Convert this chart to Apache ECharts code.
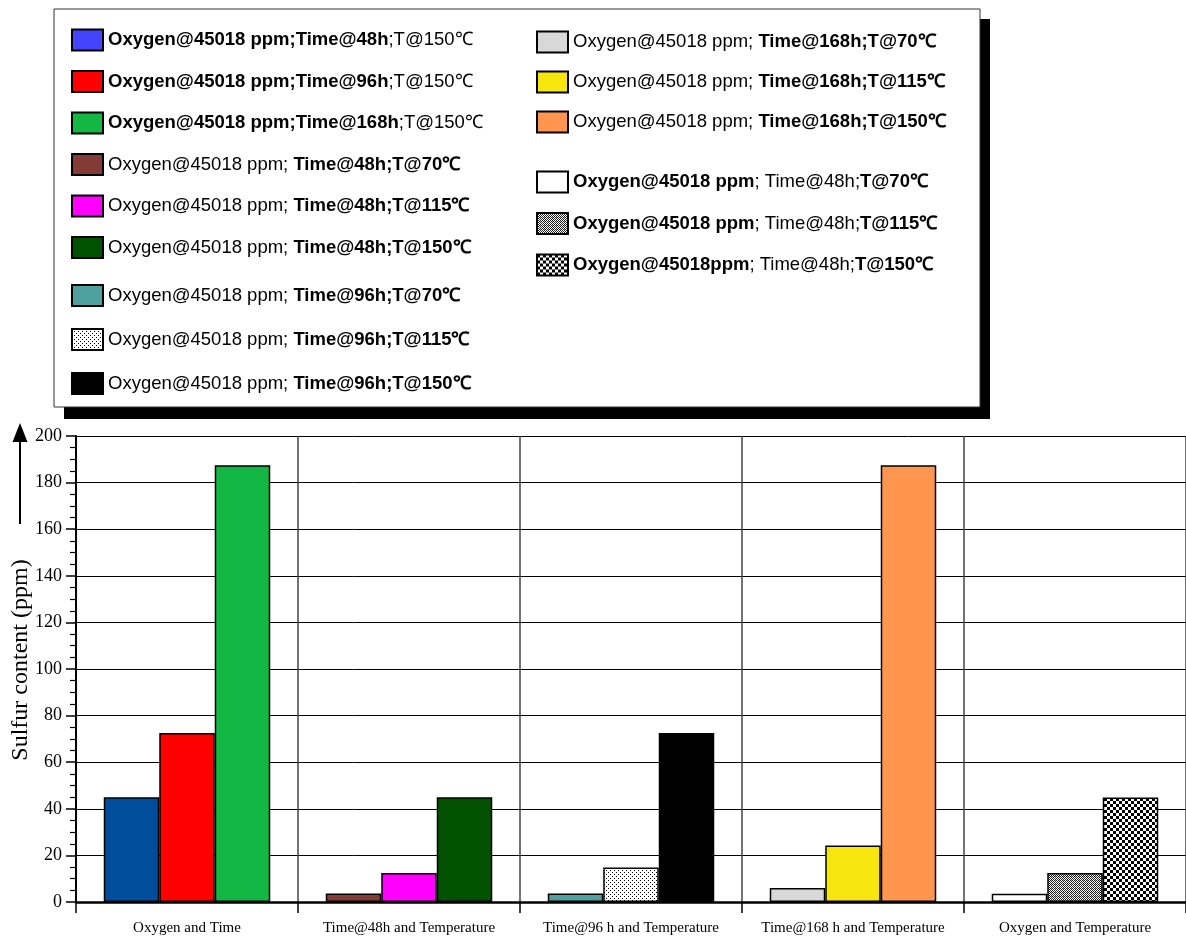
<!DOCTYPE html>
<html>
<head>
<meta charset="utf-8">
<script src="https://cdn.jsdelivr.net/npm/echarts@6/dist/echarts.min.js"></script>
<style>html,body{margin:0;padding:0;background:#fff;}#chart{width:1186px;height:938px;}</style>
</head>
<body>
<div id="chart"></div>
<script>
// ---------- DATA ----------
const categories = ['Oxygen and Time', 'Time@48h and Temperature', 'Time@96 h and Temperature', 'Time@168 h and Temperature', 'Oxygen and Temperature'];
const oxygenTime = [45, 72.5, 187.5];
const time48Temp = [3.7, 12.5, 45];
const time96Temp = [3.7, 14.8, 72.5];
const time168Temp = [6, 24.2, 187.5];
const oxygenTemp = [3.5, 12.5, 44.8];
const groupValues = [oxygenTime, time48Temp, time96Temp, time168Temp, oxygenTemp];
const seriesNames = [
  'Oxygen@45018 ppm;Time@48h;T@150℃',
  'Oxygen@45018 ppm;Time@96h;T@150℃',
  'Oxygen@45018 ppm;Time@168h;T@150℃',
  'Oxygen@45018 ppm; Time@48h;T@70℃',
  'Oxygen@45018 ppm; Time@48h;T@115℃',
  'Oxygen@45018 ppm; Time@48h;T@150℃',
  'Oxygen@45018 ppm; Time@96h;T@70℃',
  'Oxygen@45018 ppm; Time@96h;T@115℃',
  'Oxygen@45018 ppm; Time@96h;T@150℃',
  'Oxygen@45018 ppm; Time@168h;T@70℃',
  'Oxygen@45018 ppm; Time@168h;T@115℃',
  'Oxygen@45018 ppm; Time@168h;T@150℃',
  'Oxygen@45018 ppm; Time@48h; T@70℃',
  'Oxygen@45018 ppm; Time@48h; T@115℃',
  'Oxygen@45018ppm; Time@48h; T@150℃'
];
// rich-text pieces of legend labels: [bold?, text]
const legendParts = [
  [[1, 'Oxygen@45018 ppm;Time@48h'], [0, ';T@150℃']],
  [[1, 'Oxygen@45018 ppm;Time@96h'], [0, ';T@150℃']],
  [[1, 'Oxygen@45018 ppm;Time@168h'], [0, ';T@150℃']],
  [[0, 'Oxygen@45018 ppm; '], [1, 'Time@48h;T@70℃']],
  [[0, 'Oxygen@45018 ppm; '], [1, 'Time@48h;T@115℃']],
  [[0, 'Oxygen@45018 ppm; '], [1, 'Time@48h;T@150℃']],
  [[0, 'Oxygen@45018 ppm; '], [1, 'Time@96h;T@70℃']],
  [[0, 'Oxygen@45018 ppm; '], [1, 'Time@96h;T@115℃']],
  [[0, 'Oxygen@45018 ppm; '], [1, 'Time@96h;T@150℃']],
  [[0, 'Oxygen@45018 ppm; '], [1, 'Time@168h;T@70℃']],
  [[0, 'Oxygen@45018 ppm; '], [1, 'Time@168h;T@115℃']],
  [[0, 'Oxygen@45018 ppm; '], [1, 'Time@168h;T@150℃']],
  [[1, 'Oxygen@45018 ppm'], [0, '; Time@48h;'], [1, 'T@70℃']],
  [[1, 'Oxygen@45018 ppm'], [0, '; Time@48h;'], [1, 'T@115℃']],
  [[1, 'Oxygen@45018ppm'], [0, '; Time@48h;'], [1, 'T@150℃']]
];

// ---------- STYLES ----------
function pattern(size, draw) {
  const c = document.createElement('canvas');
  c.width = size; c.height = size;
  const ctx = c.getContext('2d');
  ctx.fillStyle = '#fff'; ctx.fillRect(0, 0, size, size);
  ctx.fillStyle = '#000';
  draw(ctx);
  return { image: c, repeat: 'repeat' };
}
const dotted = pattern(4, ctx => { ctx.fillRect(0, 0, 1, 1); ctx.fillRect(2, 2, 1, 1); });
const crosshatch = pattern(4, ctx => {
  ctx.fillStyle = '#222';
  ctx.fillRect(0, 0, 1, 1); ctx.fillRect(2, 0, 1, 1); ctx.fillRect(1, 1, 1, 1); ctx.fillRect(3, 1, 1, 1);
  ctx.fillRect(0, 2, 1, 1); ctx.fillRect(2, 2, 1, 1); ctx.fillRect(1, 3, 1, 1); ctx.fillRect(3, 3, 1, 1);
  ctx.fillStyle = '#fff'; ctx.fillRect(1, 2, 1, 1);
  ctx.fillStyle = '#aaa'; ctx.fillRect(3, 0, 1, 1);
});
const checker = pattern(6, ctx => { ctx.fillRect(0, 0, 3, 3); ctx.fillRect(3, 3, 3, 3); });

const barColors = ['#004E9B', '#FF0000', '#12B843', '#833B35', '#FF00FF', '#005200', '#50A0A0', dotted, '#000000', '#D8D8D8', '#F7E60E', '#FF9650', '#FFFFFF', crosshatch, checker];
const legendColorOverride = { 0: '#4444FF' };

const serif = 'Liberation Serif, Times New Roman, serif';
const sans = 'Liberation Sans, Arial, sans-serif';
const LFS = 18.5;

const series = [];
groupValues.forEach((vals, g) => {
  vals.forEach((v, s) => {
    const idx = g * 3 + s;
    series.push({
      type: 'bar',
      name: seriesNames[idx],
      stack: 'slot' + s,
      barGap: '0%',
      barCategoryGap: '25%',
      itemStyle: { color: barColors[idx], borderColor: '#000', borderWidth: 1.5 },
      emphasis: { disabled: true },
      data: categories.map((c, i) => (i === g ? v : '-'))
    });
  });
});

const legendNameMap = {};
seriesNames.forEach((n, i) => {
  legendNameMap[n] = legendParts[i].map(p => '{' + (p[0] ? 'b' : 'n') + '|' + p[1] + '}').join('');
});

function makeLegend(indices, left, top, gap) {
  return {
    orient: 'vertical', left: left, top: top, padding: 0, itemGap: gap,
    itemWidth: 31, itemHeight: 21, icon: 'rect', selectedMode: false,
    data: indices.map(i => {
      const d = { name: seriesNames[i] };
      if (legendColorOverride[i]) d.itemStyle = { color: legendColorOverride[i] };
      return d;
    }),
    formatter: name => legendNameMap[name],
    textStyle: {
      fontFamily: sans, fontSize: LFS, color: '#000', lineHeight: 21,
      rich: {
        b: { fontFamily: sans, fontSize: LFS, fontWeight: 'bold', color: '#000', lineHeight: 21 },
        n: { fontFamily: sans, fontSize: LFS, fontWeight: 'normal', color: '#000', lineHeight: 21 }
      }
    }
  };
}

const option = {
  animation: false,
  backgroundColor: '#fff',
  grid: { left: 76, width: 1113, top: 436, bottom: 36, containLabel: false },
  legend: [
    makeLegend([0, 1, 2], 71, 28.5, 18.5),
    makeLegend([3, 4, 5], 71, 153, 18.5),
    makeLegend([6, 7, 8], 71, 284, 21),
    makeLegend([9, 10, 11], 536, 30.5, 17),
    makeLegend([12, 13, 14], 536, 170.5, 18.5)
  ],
  xAxis: {
    type: 'category',
    data: categories,
    axisLine: { show: true, lineStyle: { color: '#000', width: 2.5 } },
    axisTick: { show: true, interval: 0, length: 11, lineStyle: { color: '#000', width: 1.5 } },
    splitLine: { show: true, interval: 0, lineStyle: { color: '#444', width: 1.5 } },
    axisLabel: { interval: 0, fontFamily: serif, fontSize: 15, color: '#000', margin: 19 }
  },
  yAxis: {
    type: 'value', min: 0, max: 200, interval: 20,
    axisLine: { show: true, lineStyle: { color: '#000', width: 2 } },
    axisTick: { show: true, length: 10, lineStyle: { color: '#000', width: 1.5 } },
    minorTick: { show: true, splitNumber: 4, length: 6, lineStyle: { color: '#000', width: 1.2 } },
    splitLine: { show: true, lineStyle: { color: '#000', width: 1 } },
    axisLabel: { fontFamily: serif, fontSize: 18, color: '#000', margin: 14 }
  },
  graphic: [
    { type: 'rect', z: -10, silent: true, shape: { x: 64, y: 19, width: 926, height: 400 }, style: { fill: '#000' } },
    { type: 'rect', z: -9, silent: true, shape: { x: 54, y: 9, width: 926, height: 398 }, style: { fill: '#fff', stroke: '#333', lineWidth: 1 } },
    { type: 'line', silent: true, shape: { x1: 20, y1: 524, x2: 20, y2: 438 }, style: { stroke: '#000', lineWidth: 2 } },
    { type: 'polygon', silent: true, shape: { points: [[20, 423], [12.5, 442], [27.5, 442]] }, style: { fill: '#000' } },
    { type: 'text', silent: true, x: 21, y: 660, rotation: Math.PI / 2,
      style: { text: 'Sulfur content (ppm)', fontFamily: serif, fontSize: 24, fill: '#000', align: 'center', verticalAlign: 'middle' } }
  ],
  series: series
};

const chart = echarts.init(document.getElementById('chart'), null, { renderer: 'canvas' });
chart.setOption(option);
</script>
</body>
</html>
